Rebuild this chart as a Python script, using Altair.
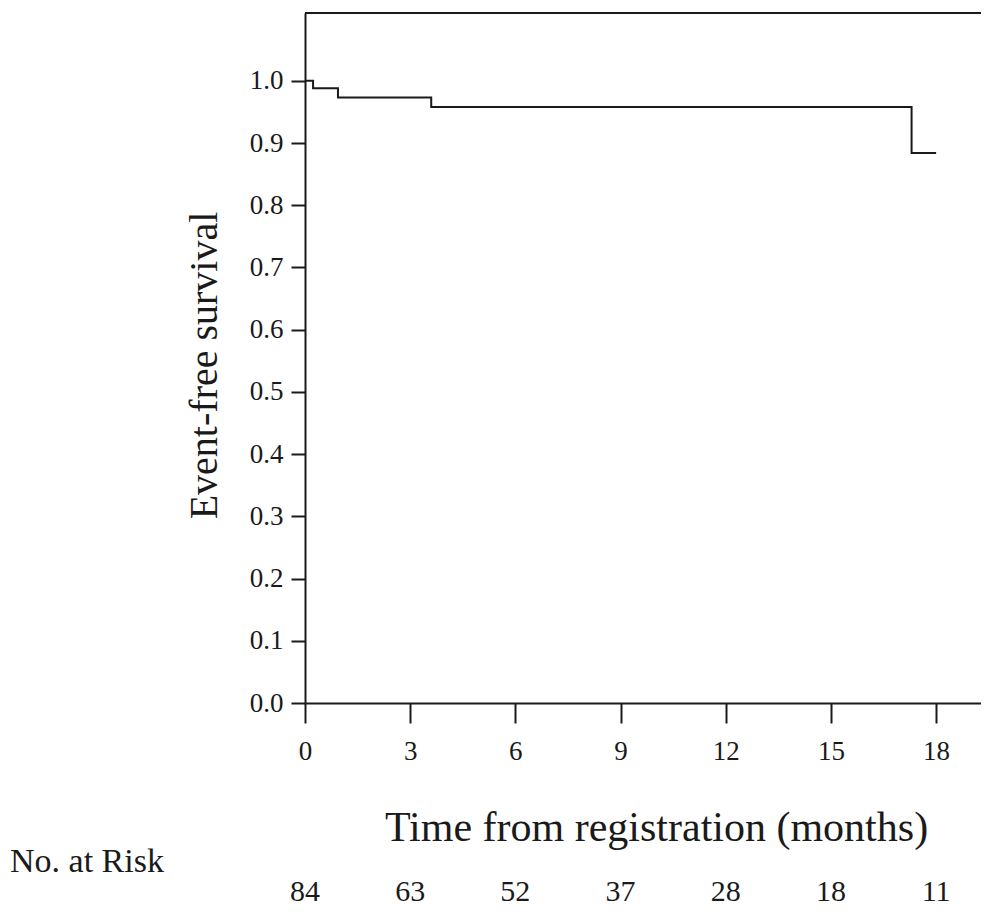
import altair as alt
import pandas as pd

# Kaplan-Meier step curve (months, survival)
time_months = [0.0, 0.23, 0.94, 3.6, 17.3, 18.0]
survival = [1.0, 0.988, 0.973, 0.958, 0.884, 0.884]

# Numbers at risk
risk_times = [0, 3, 6, 9, 12, 15, 18]
risk_counts = [84, 63, 52, 37, 28, 18, 11]

x_ticks = [0, 3, 6, 9, 12, 15, 18]
y_ticks = [0.0, 0.1, 0.2, 0.3, 0.4, 0.5, 0.6, 0.7, 0.8, 0.9, 1.0]

FONT = "Liberation Serif, 'Times New Roman', Times, serif"
INK = "#1a1a1a"
W, H = 676, 690
XTITLE = "Time from registration (months)"

curve_df = pd.DataFrame({"t": time_months, "s": survival})
risk_df = pd.DataFrame({"t": risk_times, "n": risk_counts})
one = pd.DataFrame({"a": [0]})

xscale = alt.Scale(domain=[0, 19.28], nice=False, zero=False)
yscale = alt.Scale(domain=[0, 1.109], nice=False, zero=False)

xaxis = alt.Axis(
    values=x_ticks, format="d", grid=False, labelFlush=False,
    tickSize=20, tickWidth=2, tickColor=INK,
    domainWidth=2, domainColor=INK,
    labelFont=FONT, labelFontSize=27, labelColor=INK, labelPadding=15,
    titleFont=FONT, titleFontSize=42, titleFontWeight="normal", titleColor=INK,
    titleX=351, titleY=137, titleAlign="center", titleBaseline="alphabetic",
)

curve = alt.Chart(curve_df).mark_line(
    interpolate="step-after", color=INK, strokeWidth=2
).encode(
    x=alt.X("t:Q", scale=xscale, axis=xaxis, title=XTITLE),
    y=alt.Y("s:Q", scale=yscale, axis=alt.Axis(
        values=y_ticks, format=".1f", grid=False, labelFlush=False,
        title="Event-free survival",
        tickSize=14, tickWidth=2, tickColor=INK,
        domainWidth=2, domainColor=INK,
        labelFont=FONT, labelFontSize=27, labelColor=INK, labelPadding=8,
        titleFont=FONT, titleFontSize=40, titleFontWeight="normal", titleColor=INK,
        titleX=-89, titleY=352, titleAngle=270, titleAlign="center", titleBaseline="alphabetic",
    )),
)

top_border = alt.Chart(one).mark_rule(color=INK, strokeWidth=2).encode(
    x=alt.value(0), x2=alt.value(W), y=alt.value(0)
)

risk_text = alt.Chart(risk_df).mark_text(
    font=FONT, fontSize=30, color=INK, baseline="alphabetic", align="center"
).encode(
    x=alt.X("t:Q", scale=xscale, axis=xaxis, title=XTITLE),
    y=alt.value(888),
    text=alt.Text("n:Q"),
)

risk_label = alt.Chart(one).mark_text(
    font=FONT, fontSize=34, color=INK, baseline="alphabetic", align="left"
).encode(
    x=alt.value(-295), y=alt.value(859), text=alt.value("No. at Risk")
)

chart = alt.layer(curve, top_border, risk_text, risk_label).properties(
    width=W, height=H,
    autosize=alt.AutoSizeParams(type="none"),
    padding={"left": 297, "top": 5, "right": 0, "bottom": 203},
).configure_view(stroke=None)

chart.save("out.html", embed_options={"renderer": "svg", "actions": False})
